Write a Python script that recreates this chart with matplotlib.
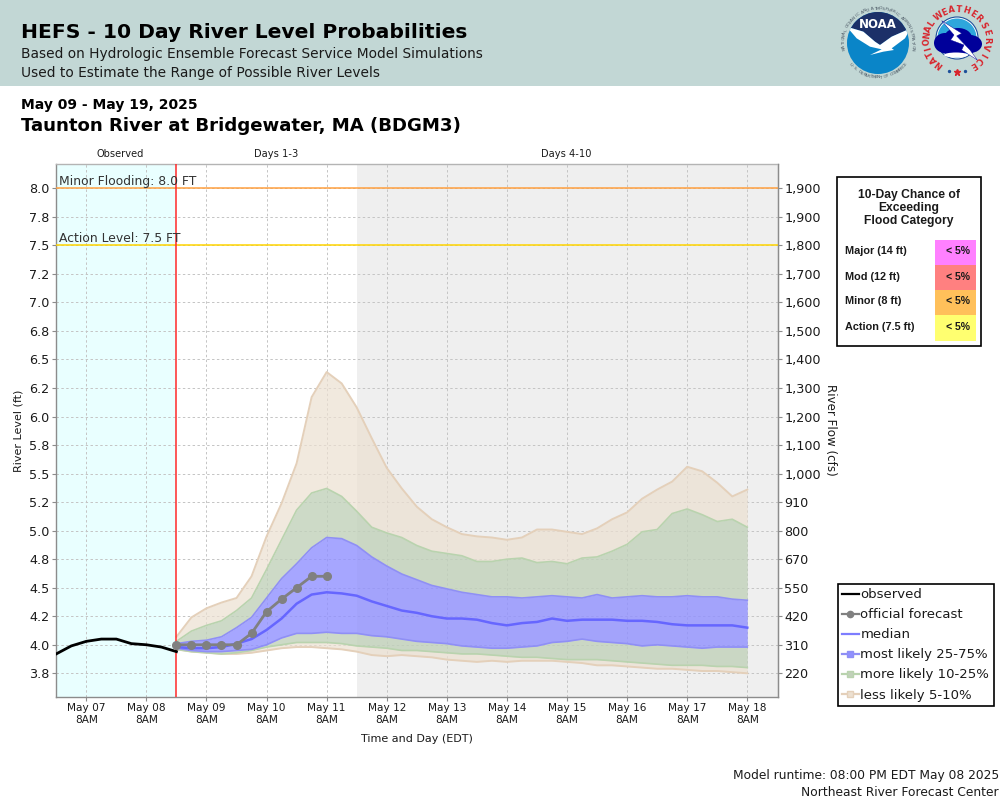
import math

import matplotlib

matplotlib.use("Agg")

import matplotlib.dates as mdates
import matplotlib.pyplot as plt
import pandas as pd
from matplotlib.lines import Line2D
from matplotlib.patches import Circle, Ellipse, Polygon, Rectangle

# river level in ft, every 6 hours
OBSERVED = [3.92, 3.99, 4.03, 4.05, 4.05, 4.01, 4.00, 3.98, 3.94]
OFFICIAL = [4.00, 4.00, 4.00, 4.00, 4.00, 4.10, 4.29, 4.40, 4.50, 4.60, 4.60]
MEDIAN = [
    3.98, 3.97, 3.97, 3.98, 4.01, 4.05, 4.13, 4.23, 4.36, 4.44, 4.46, 4.45, 4.43,
    4.38, 4.34, 4.30, 4.28, 4.25, 4.23, 4.23, 4.22, 4.19, 4.17, 4.19, 4.20, 4.23,
    4.21, 4.22, 4.22, 4.22, 4.21, 4.21, 4.20, 4.18, 4.17, 4.17, 4.17, 4.17, 4.15,
]
P95 = [
    4.07, 4.24, 4.32, 4.37, 4.41, 4.60, 4.95, 5.24, 5.59, 6.17, 6.39, 6.29, 6.08,
    5.81, 5.55, 5.37, 5.21, 5.10, 5.03, 4.97, 4.95, 4.94, 4.92, 4.94, 5.01, 5.01,
    4.99, 4.97, 5.02, 5.10, 5.16, 5.28, 5.36, 5.43, 5.56, 5.52, 5.42, 5.30, 5.36,
]
P90 = [
    4.03, 4.12, 4.17, 4.21, 4.30, 4.41, 4.66, 4.92, 5.18, 5.33, 5.37, 5.30, 5.17,
    5.03, 4.98, 4.94, 4.87, 4.82, 4.80, 4.78, 4.73, 4.73, 4.75, 4.76, 4.72, 4.73,
    4.71, 4.76, 4.77, 4.82, 4.88, 4.99, 5.01, 5.15, 5.19, 5.14, 5.08, 5.10, 5.03,
]
P75 = [
    4.01, 4.03, 4.04, 4.07, 4.15, 4.24, 4.41, 4.58, 4.71, 4.85, 4.94, 4.93, 4.87,
    4.77, 4.69, 4.62, 4.57, 4.52, 4.49, 4.46, 4.44, 4.42, 4.42, 4.41, 4.42, 4.43,
    4.42, 4.41, 4.44, 4.41, 4.42, 4.43, 4.42, 4.42, 4.43, 4.42, 4.42, 4.40, 4.39,
]
P25 = [
    3.97, 3.95, 3.94, 3.94, 3.95, 3.96, 4.00, 4.06, 4.10, 4.10, 4.11, 4.10, 4.10,
    4.08, 4.07, 4.05, 4.03, 4.02, 4.01, 3.99, 3.98, 3.97, 3.97, 3.98, 3.99, 4.02,
    4.03, 4.05, 4.03, 4.02, 4.01, 3.99, 4.00, 3.99, 3.98, 3.97, 3.98, 3.98, 3.98,
]
P10 = [
    3.96, 3.94, 3.93, 3.92, 3.93, 3.95, 3.98, 4.00, 4.02, 4.02, 4.02, 4.01, 3.99,
    3.98, 3.97, 3.95, 3.95, 3.94, 3.93, 3.92, 3.92, 3.91, 3.90, 3.89, 3.89, 3.88,
    3.87, 3.87, 3.87, 3.86, 3.85, 3.84, 3.83, 3.82, 3.82, 3.82, 3.81, 3.81, 3.80,
]
P05 = [
    3.96, 3.94, 3.93, 3.92, 3.92, 3.93, 3.95, 3.97, 3.98, 3.98, 3.97, 3.96, 3.94,
    3.91, 3.90, 3.91, 3.90, 3.89, 3.87, 3.86, 3.85, 3.86, 3.85, 3.86, 3.86, 3.86,
    3.85, 3.84, 3.82, 3.82, 3.81, 3.80, 3.79, 3.79, 3.78, 3.77, 3.77, 3.76, 3.75,
]

LEVEL_TICKS = [
    8.0, 7.75, 7.5, 7.25, 7.0, 6.75, 6.5, 6.25, 6.0,
    5.75, 5.5, 5.25, 5.0, 4.75, 4.5, 4.25, 4.0, 3.75,
]
LEVEL_LABELS = [
    "8.0", "7.8", "7.5", "7.2", "7.0", "6.8", "6.5", "6.2", "6.0",
    "5.8", "5.5", "5.2", "5.0", "4.8", "4.5", "4.2", "4.0", "3.8",
]
FLOW_LABELS = [
    "1,900", "1,900", "1,800", "1,700", "1,600", "1,500", "1,400", "1,300", "1,200",
    "1,100", "1,000", "910", "800", "670", "550", "420", "310", "220",
]

CATEGORY_LABELS = ["Major (14 ft)", "Mod (12 ft)", "Minor (8 ft)", "Action (7.5 ft)"]
CATEGORY_CHANCES = ["< 5%", "< 5%", "< 5%", "< 5%"]
CATEGORY_COLORS = ["#ff80ff", "#ff8080", "#ffc05a", "#ffff70"]

OBSERVED_TIMES = pd.date_range("2025-05-06 20:00", periods=len(OBSERVED), freq="6h")
FORECAST_TIMES = pd.date_range("2025-05-08 20:00", periods=len(MEDIAN), freq="6h")
OFFICIAL_TIMES = FORECAST_TIMES[: len(OFFICIAL)]
DAY_TICKS = pd.date_range("2025-05-07 08:00", "2025-05-18 08:00", freq="1D")

TAN = "#ece0d1"
GREEN = "#c1d1ba"
BLUE = "#9090ff"
TAN_EDGE = "#e4d0ba"
GREEN_EDGE = "#b9d3ae"
BLUE_EDGE = "#8f8ff5"
MEDIAN_COLOR = "#6666ff"
FRAME_COLOR = "#8c8c8c"
TEXT_COLOR = "#1a1a1a"

fig = plt.figure(figsize=(10, 8), dpi=100)
plt.rcParams["font.family"] = "DejaVu Sans"

# whole page in pixels, for the header, logos and the flood table
page = fig.add_axes([0, 0, 1, 1], zorder=0)
page.set_xlim(0, 1000)
page.set_ylim(800, 0)
page.axis("off")


def circle_text(text, cx, cy, radius, start, end, size, color, weight="normal", bottom=False):
    step = (end - start) / max(len(text) - 1, 1)
    for i, char in enumerate(text):
        angle = start + step * i
        rad = math.radians(angle)
        if bottom:
            x, y, rotation = cx + radius * math.sin(rad), cy + radius * math.cos(rad), angle
        else:
            x, y, rotation = cx + radius * math.sin(rad), cy - radius * math.cos(rad), -angle
        page.text(x, y, char, fontsize=size, color=color, fontweight=weight,
                  rotation=rotation, ha="center", va="center", rotation_mode="anchor")


def logo_points(points):
    return [(820 + x / 3, y / 3) for x, y in points]


def draw_noaa_logo():
    cx, cy = 878, 43
    disc = Circle((cx, cy), 31, fc="#0a85c8", ec="none")
    page.add_patch(disc)
    navy = Polygon(logo_points([(80, 80), (130, 95), (165, 125), (180, 135), (215, 110),
                                (272, 85), (272, 0), (80, 0)]), fc="#1c3068", ec="none")
    page.add_patch(navy)
    navy.set_clip_path(disc)
    bird = Polygon(logo_points([(80, 80), (130, 95), (165, 125), (180, 135), (215, 110),
                                (272, 85), (255, 115), (215, 145), (222, 150), (190, 155),
                                (150, 165), (185, 148), (150, 140), (110, 115)]),
                   fc="white", ec="none")
    page.add_patch(bird)
    bird.set_clip_path(disc)
    page.text(cx, 25, "NOAA", fontsize=8.5, color="white", fontweight="bold",
              ha="center", va="center")
    circle_text("NATIONAL OCEANIC AND ATMOSPHERIC ADMINISTRATION", cx, cy, 34.5,
                -100, 100, 3.2, "#4d5a66")
    circle_text("U.S. DEPARTMENT OF COMMERCE", cx, cy, 34.5, -52, 52, 3.2, "#4d5a66", bottom=True)


def draw_nws_logo():
    cx, cy = 957, 38
    page.add_patch(Circle((cx, cy), 21, fc="white", ec="#1d4f9a", lw=0.8))
    page.add_patch(Circle((cx, cy), 19.5, fc="#2ea6dc", ec="none"))
    for center, width, height in (
        ((945, 43), 22, 20), ((958, 38), 28, 20), ((970, 44), 24, 18), ((955, 48), 34, 14),
    ):
        page.add_patch(Ellipse(center, width, height, fc="#00009a", ec="none"))
    page.add_patch(Ellipse((956, 55), 24, 5, fc="white", ec="none"))
    page.add_patch(Polygon(logo_points([(365, 62), (425, 100), (410, 108), (450, 150), (472, 180),
                                        (425, 150), (432, 135), (392, 120), (402, 105)]),
                           fc="white", ec="#00009a", lw=0.3))
    circle_text("NATIONAL", cx, 39.5, 30, -143, -57, 6, "#d8242c", "bold")
    circle_text("WEATHER", cx, 39.5, 30, -38, 45, 6, "#d8242c", "bold")
    circle_text("SERVICE", cx, 39.5, 30, 62, 148, 6, "#d8242c", "bold")
    page.plot([949, 965], [71, 71], ls="none", marker="o", ms=1.4, color="#1d4f9a")
    page.plot([957], [72], ls="none", marker="*", ms=4.5, color="#d8242c")


def draw_header():
    page.add_patch(Rectangle((0, 0), 1000, 86, fc="#c2d7d5", ec="none"))
    page.text(21, 33, "HEFS - 10 Day River Level Probabilities", fontsize=14.6,
              fontweight="bold", color="black", ha="left", va="center")
    page.text(21, 54, "Based on Hydrologic Ensemble Forecast Service Model Simulations",
              fontsize=9.9, color=TEXT_COLOR, ha="left", va="center")
    page.text(21, 73, "Used to Estimate the Range of Possible River Levels",
              fontsize=9.9, color=TEXT_COLOR, ha="left", va="center")
    page.text(21, 105, "May 09 - May 19, 2025", fontsize=10, fontweight="bold",
              color="black", ha="left", va="center")
    page.text(21, 126, "Taunton River at Bridgewater, MA (BDGM3)", fontsize=13.1,
              fontweight="bold", color="black", ha="left", va="center")
    page.text(120, 154, "Observed", fontsize=7.1, color=TEXT_COLOR, ha="center", va="center")
    page.text(276, 154, "Days 1-3", fontsize=7.1, color=TEXT_COLOR, ha="center", va="center")
    page.text(566, 154, "Days 4-10", fontsize=7.1, color=TEXT_COLOR, ha="center", va="center")
    page.text(999, 776, "Model runtime: 08:00 PM EDT May 08 2025", fontsize=8.83,
              color=TEXT_COLOR, ha="right", va="center")
    page.text(999, 792, "Northeast River Forecast Center", fontsize=8.83,
              color=TEXT_COLOR, ha="right", va="center")


def draw_flood_table():
    page.add_patch(Rectangle((836.5, 176.5), 144, 169, fc="white", ec="black", lw=1.2))
    for y, line in zip((195, 208, 221), ("10-Day Chance of", "Exceeding", "Flood Category")):
        page.text(909, y, line, fontsize=8.75, fontweight="bold", family="Liberation Sans",
                  color=TEXT_COLOR, ha="center", va="center")
    for i, (label, chance, color) in enumerate(zip(CATEGORY_LABELS, CATEGORY_CHANCES, CATEGORY_COLORS)):
        top = 240 + i * 25
        page.add_patch(Rectangle((935, top), 41, 25 if i < 3 else 26, fc=color, ec="none"))
        page.text(845, top + 11.5, label, fontsize=7.8, fontweight="bold",
                  family="Liberation Sans", color=TEXT_COLOR, ha="left", va="center")
        page.text(970, top + 11.5, chance, fontsize=7.6, family="Liberation Sans",
                  fontweight="bold", color=TEXT_COLOR, ha="right", va="center")


draw_header()
draw_noaa_logo()
draw_nws_logo()
draw_flood_table()

# chart area: x 55.5-778, y 164-697 px
ax = fig.add_axes([55.5 / 1000, 1 - 696.7 / 800, 722.5 / 1000, 532.7 / 800], zorder=1)
ax.set_xlim(pd.Timestamp("2025-05-06 19:42"), pd.Timestamp("2025-05-18 20:16"))
ax.set_ylim(3.545, 8.213)
ax.set_facecolor("white")

ax.axvspan(pd.Timestamp("2025-05-06 19:42"), FORECAST_TIMES[0], color="#e9ffff", lw=0, zorder=0)
ax.axvspan(pd.Timestamp("2025-05-11 20:00"), pd.Timestamp("2025-05-18 20:16"), color="#efefef", lw=0, zorder=0)

ax.set_yticks(LEVEL_TICKS)
ax.set_yticklabels(LEVEL_LABELS)
ax.set_xticks(DAY_TICKS)
ax.xaxis.set_major_formatter(mdates.DateFormatter("%b %d\n8AM"))
ax.grid(True, color="#c4c4c4", linestyle=(0, (2.5, 2.5)), linewidth=0.7, zorder=1)
ax.set_axisbelow(True)
ax.tick_params(axis="both", colors=FRAME_COLOR, labelcolor=TEXT_COLOR, labelsize=9.2, length=3, width=0.8)
ax.tick_params(axis="y", pad=1.2)
ax.tick_params(axis="x", labelsize=7.6, pad=1.5)
for spine in ax.spines.values():
    spine.set_color(FRAME_COLOR)
    spine.set_linewidth(1)
ax.spines["top"].set_color("#b4b4b4")
ax.set_ylabel("River Level (ft)", fontsize=8, color=TEXT_COLOR, labelpad=4.3)
ax.set_xlabel("Time and Day (EDT)", fontsize=8, color=TEXT_COLOR, labelpad=7)

flow_axis = ax.twinx()
flow_axis.set_ylim(ax.get_ylim())
flow_axis.set_yticks(LEVEL_TICKS)
flow_axis.set_yticklabels(FLOW_LABELS)
flow_axis.tick_params(axis="y", colors=FRAME_COLOR, labelcolor=TEXT_COLOR, labelsize=9.2, length=3, width=0.8, pad=1.5)
flow_axis.spines["right"].set_color(FRAME_COLOR)
flow_axis.spines["top"].set_visible(False)
flow_axis.spines["left"].set_visible(False)
flow_axis.spines["bottom"].set_visible(False)
flow_axis.set_ylabel("River Flow (cfs)", fontsize=8.6, color=TEXT_COLOR, rotation=270, labelpad=11.5)

ax.fill_between(FORECAST_TIMES, P90, P95, color=TAN, alpha=0.7, lw=0, zorder=2)
ax.fill_between(FORECAST_TIMES, P05, P10, color=TAN, alpha=0.7, lw=0, zorder=2)
ax.fill_between(FORECAST_TIMES, P75, P90, color=GREEN, alpha=0.8, lw=0, zorder=2)
ax.fill_between(FORECAST_TIMES, P10, P25, color=GREEN, alpha=0.8, lw=0, zorder=2)
ax.fill_between(FORECAST_TIMES, P25, P75, color=BLUE, alpha=0.8, lw=0, zorder=2)
for series, color, width in (
    (P95, TAN_EDGE, 1.4), (P05, TAN_EDGE, 1.4),
    (P90, GREEN_EDGE, 1.2), (P10, GREEN_EDGE, 1.2),
    (P75, BLUE_EDGE, 1.2), (P25, BLUE_EDGE, 1.2),
):
    ax.plot(FORECAST_TIMES, series, color=color, linewidth=width, zorder=3)
ax.plot(FORECAST_TIMES, MEDIAN, color=MEDIAN_COLOR, linewidth=1.8, zorder=4)

ax.axhline(8.0, color="#ffa040", linewidth=1.1, zorder=3)
ax.axhline(7.5, color="#ffd400", linewidth=1.1, zorder=3)
ax.axvline(FORECAST_TIMES[0], color="#ff2a2a", linewidth=1.1, zorder=5)

label_time = pd.Timestamp("2025-05-06 21:00")
ax.annotate("Minor Flooding: 8.0 FT", (label_time, 8.0), xytext=(0, 0.3), textcoords="offset points",
            fontsize=8.9, color="#333333", ha="left", va="bottom", zorder=6)
ax.annotate("Action Level: 7.5 FT", (label_time, 7.5), xytext=(0, 0.3), textcoords="offset points",
            fontsize=8.9, color="#333333", ha="left", va="bottom", zorder=6)

ax.plot(OBSERVED_TIMES, OBSERVED, color="black", linewidth=2, zorder=5)
ax.plot(OFFICIAL_TIMES, OFFICIAL, color="#808080", linewidth=2, marker="o", markersize=5.5, zorder=6)

legend_handles = [
    Line2D([], [], color="black", linewidth=1.6),
    Line2D([], [], color="#808080", linewidth=1.6, marker="o", markersize=4.5),
    Line2D([], [], color=MEDIAN_COLOR, linewidth=1.6, alpha=0.85),
    Line2D([], [], color=BLUE_EDGE, linewidth=1.6, marker="s", markersize=5, markerfacecolor=BLUE),
    Line2D([], [], color=GREEN_EDGE, linewidth=1.6, marker="s", markersize=5, markerfacecolor=GREEN),
    Line2D([], [], color=TAN_EDGE, linewidth=1.6, marker="s", markersize=5, markerfacecolor=TAN),
]
legend_labels = ["observed", "official forecast", "median", "most likely 25-75%",
                 "more likely 10-25%", "less likely 5-10%"]
legend = fig.legend(
    legend_handles, legend_labels, loc="upper left",
    bbox_to_anchor=(837.5 / 1000, 1 - 584 / 800), borderaxespad=0, fontsize=9.55,
    frameon=True, fancybox=False, framealpha=1, edgecolor="black", labelcolor=TEXT_COLOR,
    handlelength=1.3, handletextpad=0.1, labelspacing=0.53, borderpad=0.33,
)
legend.get_frame().set_linewidth(1.2)

fig.savefig("out.png", dpi=100)
plt.close(fig)
